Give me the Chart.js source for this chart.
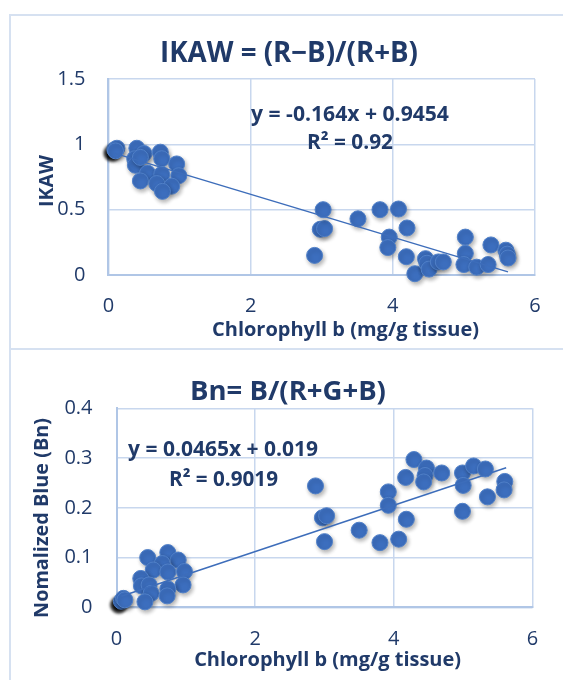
<!DOCTYPE html>
<html><head><meta charset="utf-8">
<script src="https://cdn.jsdelivr.net/npm/chart.js@4.4.1/dist/chart.umd.min.js"></script>
<style>
html,body{margin:0;padding:0;background:#fff;width:563px;height:680px;overflow:hidden;position:relative;}
.frame{position:absolute;border:2px solid #D6E1F1;box-sizing:border-box;}
canvas{position:absolute;left:0;}
</style></head><body>
<div class="frame" style="left:9px;top:14px;width:600px;height:336px;"></div>
<div class="frame" style="left:9px;top:348px;width:600px;height:400px;"></div>
<canvas id="c1" width="563" height="347" style="top:0px"></canvas>
<canvas id="c2" width="563" height="333" style="top:347px"></canvas>
<script>
// ---------- DATA ----------
const ikawX = [0.12,0.10,0.40,0.50,0.37,0.38,0.45,0.73,0.75,0.96,0.55,0.75,0.99,0.45,0.68,0.89,0.76,
  2.90,2.98,3.04,3.02,3.51,3.82,4.08,3.95,3.93,4.20,4.19,4.31,4.46,4.48,4.51,4.64,4.71,5.02,5.02,5.00,5.18,5.34,5.38,5.59,5.61,5.62];
const ikawY = [0.97,0.95,0.97,0.93,0.89,0.84,0.90,0.94,0.89,0.85,0.78,0.77,0.76,0.72,0.70,0.68,0.64,
  0.15,0.35,0.355,0.50,0.43,0.50,0.505,0.29,0.21,0.36,0.14,0.01,0.125,0.09,0.045,0.10,0.10,0.29,0.166,0.08,0.06,0.08,0.23,0.19,0.16,0.13];
const ikawHiX = [0.09];
const ikawHiY = [0.96];
const ikawSlope = [-0.164];
const ikawIntercept = [0.9454];
const ikawFitRange = [0.09, 5.62];

const bnX = [0.10,0.12,0.45,0.74,0.89,0.66,0.53,0.74,0.98,0.35,0.36,0.47,0.96,0.50,0.74,0.73,0.41,
  2.87,2.97,3.03,3.00,3.50,3.80,3.92,3.92,4.07,4.18,4.17,4.29,4.47,4.45,4.43,4.69,4.99,5.00,4.99,5.15,5.32,5.35,5.60,5.59];
const bnY = [0.018,0.015,0.10,0.11,0.095,0.088,0.075,0.071,0.072,0.058,0.043,0.045,0.045,0.028,0.037,0.023,0.011,
  0.244,0.18,0.184,0.132,0.155,0.13,0.232,0.205,0.137,0.177,0.261,0.297,0.28,0.265,0.252,0.27,0.27,0.245,0.193,0.284,0.278,0.222,0.253,0.236];
const bnHiX = [0.07];
const bnHiY = [0.012];
const bnSlope = [0.0465];
const bnIntercept = [0.019];
const bnFitRange = [0.07, 5.62];

const xTicks = [0, 2, 4, 6];
const xTickLabels = ['0', '2', '4', '6'];
const ikawYTicks = [0, 0.5, 1, 1.5];
const ikawYTickLabels = ['0', '0.5', '1', '1.5'];
const bnYTicks = [0, 0.1, 0.2, 0.3, 0.4];
const bnYTickLabels = ['0', '0.1', '0.2', '0.3', '0.4'];

const titles = ['IKAW = (R\u2212B)/(R+B)', 'Bn= B/(R+G+B)'];
const xTitle = 'Chlorophyll b (mg/g tissue)';
const yTitles = ['IKAW', 'Nomalized Blue (Bn)'];
const eqTexts = [['y = -0.164x + 0.9454', 'R\u00B2 = 0.92'], ['y = 0.0465x + 0.019', 'R\u00B2 = 0.9019']];

// ---------- STYLE ----------
const FONT = '"Open Sans"';
const TXT = '#203A69';
const GRID = '#C8D7EE';
const AXIS = '#B0C6E6';
const PT = '#3C6EBE';

const mctx = document.createElement('canvas').getContext('2d');
function fitSize(text, target) {
  mctx.font = 'bold 100px ' + FONT;
  return 100 * target / mctx.measureText(text).width;
}

function pts(xs, ys) { return xs.map((x, i) => ({x: x, y: ys[i]})); }
function fitPts(slope, intercept, range) { return range.map(x => ({x: x, y: slope[0] * x + intercept[0]})); }

const shadowPlugin = {
  id: 'pointShadow',
  beforeDatasetDraw(chart, args) {
    const ds = chart.data.datasets[args.index];
    if (!ds.shadowColor) return;
    const ctx = chart.ctx;
    ctx.save();
    ctx.shadowColor = ds.shadowColor;
    ctx.shadowBlur = ds.shadowBlur;
    ctx.shadowOffsetX = ds.shadowOffsetX;
    ctx.shadowOffsetY = ds.shadowOffsetY;
  },
  afterDatasetDraw(chart, args) {
    const ds = chart.data.datasets[args.index];
    if (!ds.shadowColor) return;
    chart.ctx.restore();
  }
};

const textPlugin = {
  id: 'textLayer',
  afterDraw(chart, args, opts) {
    const ctx = chart.ctx;
    (opts.items || []).forEach(it => {
      ctx.save();
      ctx.font = 'bold ' + fitSize(it.text, it.w).toFixed(2) + 'px ' + FONT;
      ctx.fillStyle = TXT;
      ctx.textAlign = 'center';
      ctx.textBaseline = 'middle';
      ctx.translate(it.x, it.y);
      if (it.rotate) ctx.rotate(it.rotate);
      ctx.fillText(it.text, 0, 0);
      ctx.restore();
    });
  }
};

function makeChart(id, cfg) {
  const tSize = fitSize(cfg.title, cfg.titleW);
  const lh = tSize * 1.2;
  const tTop = cfg.titleY - lh / 2;
  const tBottom = cfg.areaTop - tTop - lh;
  return new Chart(document.getElementById(id), {
    type: 'scatter',
    data: {
      datasets: [
        { type: 'line', data: cfg.fit, borderColor: '#3D6DBA', borderWidth: 1.5, pointRadius: 0, fill: false, order: 0, clip: false },
        { data: cfg.hi, pointRadius: 8, backgroundColor: PT, borderColor: '#5080C8', borderWidth: 1, order: 2, clip: false,
          shadowColor: 'rgba(0,0,0,0.95)', shadowBlur: 3, shadowOffsetX: -2.5, shadowOffsetY: 3.5 },
        { data: cfg.pts, pointRadius: 8, backgroundColor: PT, borderColor: '#5080C8', borderWidth: 1, order: 1, clip: false,
          shadowColor: 'rgba(0,0,0,0.3)', shadowBlur: 4, shadowOffsetX: 1.5, shadowOffsetY: 2.5 }
      ]
    },
    options: {
      responsive: false,
      animation: false,
      events: [],
      layout: { padding: { left: cfg.padL, right: cfg.padR, top: 0, bottom: 0 } },
      plugins: {
        legend: { display: false },
        tooltip: { enabled: false },
        title: { display: true, text: cfg.title, color: TXT,
          font: { family: FONT, size: tSize, weight: 'bold', lineHeight: 1.2 },
          padding: { top: tTop, bottom: tBottom } },
        textLayer: { items: cfg.texts }
      },
      scales: {
        x: {
          type: 'linear', min: 0, max: 6,
          afterBuildTicks: s => { s.ticks = xTicks.map(v => ({value: v})); },
          afterFit: s => { s.height = cfg.xHeight; },
          ticks: { color: TXT, font: { family: FONT, size: 20 }, padding: cfg.xTickPad,
            callback: v => xTickLabels[xTicks.indexOf(v)] },
          grid: { color: GRID, lineWidth: 1.5, drawTicks: false },
          border: { color: AXIS, width: 2 }
        },
        y: {
          type: 'linear', min: cfg.yTicks[0], max: cfg.yTicks[cfg.yTicks.length - 1],
          afterBuildTicks: s => { s.ticks = cfg.yTicks.map(v => ({value: v})); },
          afterFit: s => { s.width = cfg.yWidth; },
          ticks: { color: TXT, font: { family: FONT, size: 20 }, padding: cfg.yTickPad,
            callback: v => cfg.yLabels[cfg.yTicks.indexOf(v)] },
          grid: { color: GRID, lineWidth: 1.5, drawTicks: false },
          border: { color: AXIS, width: 2 }
        }
      }
    },
    plugins: [shadowPlugin, textPlugin]
  });
}

makeChart('c1', {
  pts: pts(ikawX, ikawY), hi: pts(ikawHiX, ikawHiY), fit: fitPts(ikawSlope, ikawIntercept, ikawFitRange),
  title: titles[0], titleW: 258, titleY: 54, areaTop: 79,
  padL: 43, padR: 28, yWidth: 65.4, xHeight: 72, xTickPad: 19, yTickPad: 23,
  yTicks: ikawYTicks, yLabels: ikawYTickLabels,
  texts: [
    { text: xTitle, w: 267, x: 345.5, y: 330.5 },
    { text: yTitles[0], w: 52, x: 47, y: 181, rotate: -Math.PI / 2 },
    { text: eqTexts[0][0], w: 198, x: 350, y: 115 },
    { text: eqTexts[0][1], w: 86, x: 350, y: 143.5 }
  ]
});

makeChart('c2', {
  pts: pts(bnX, bnY), hi: pts(bnHiX, bnHiY), fit: fitPts(bnSlope, bnIntercept, bnFitRange),
  title: titles[1], titleW: 196, titleY: 44.7, areaTop: 61.3,
  padL: 43.5, padR: 30.5, yWidth: 73, xHeight: 72.7, xTickPad: 19.7, yTickPad: 24,
  yTicks: bnYTicks, yLabels: bnYTickLabels,
  texts: [
    { text: xTitle, w: 267, x: 327.6, y: 313.5 },
    { text: yTitles[1], w: 200, x: 42.4, y: 171, rotate: -Math.PI / 2 },
    { text: eqTexts[1][0], w: 190, x: 223, y: 103 },
    { text: eqTexts[1][1], w: 109, x: 223.5, y: 133 }
  ]
});
</script>
</body></html>
